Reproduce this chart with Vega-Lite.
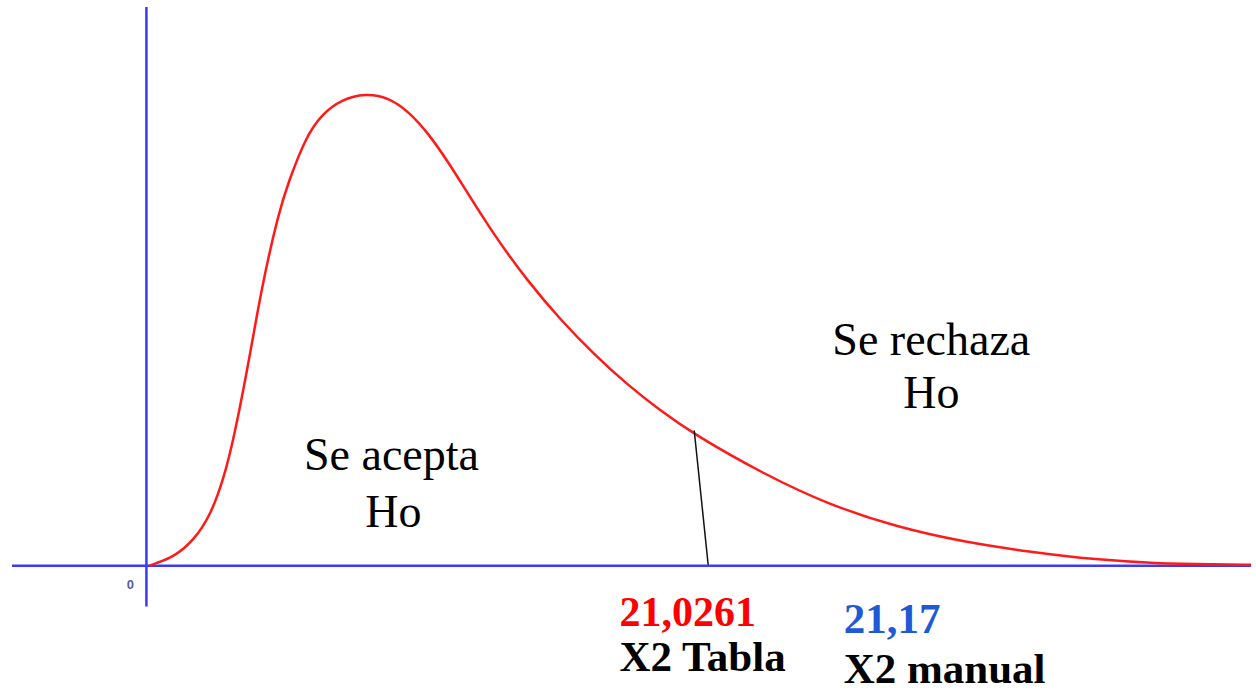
{
  "$schema": "https://vega.github.io/schema/vega-lite/v6.json",
  "width": 1256,
  "height": 692,
  "autosize": {"type": "fit", "contains": "padding"},
  "padding": 0,
  "background": "white",
  "config": {"view": {"stroke": null}},
  "datasets": {
    "curve": [
      {"x": 0.12, "y": 0.0},
      {"x": 0.32, "y": 0.0004},
      {"x": 1.12, "y": 0.0018},
      {"x": 1.92, "y": 0.0052},
      {"x": 2.6, "y": 0.0104},
      {"x": 3.12, "y": 0.0178},
      {"x": 3.52, "y": 0.0258},
      {"x": 4.12, "y": 0.0412},
      {"x": 4.64, "y": 0.0564},
      {"x": 5.32, "y": 0.0712},
      {"x": 5.72, "y": 0.0774},
      {"x": 6.4, "y": 0.0862},
      {"x": 7.04, "y": 0.0908},
      {"x": 7.84, "y": 0.0938},
      {"x": 8.8, "y": 0.095},
      {"x": 9.72, "y": 0.0942},
      {"x": 10.52, "y": 0.0914},
      {"x": 11.32, "y": 0.087},
      {"x": 12.12, "y": 0.0812},
      {"x": 12.72, "y": 0.0764},
      {"x": 14.0, "y": 0.0662},
      {"x": 15.32, "y": 0.0572},
      {"x": 16.64, "y": 0.0494},
      {"x": 18.0, "y": 0.0424},
      {"x": 19.32, "y": 0.0364},
      {"x": 20.64, "y": 0.0312},
      {"x": 22.0, "y": 0.0264},
      {"x": 24.8, "y": 0.0184},
      {"x": 27.44, "y": 0.0122},
      {"x": 30.12, "y": 0.0078},
      {"x": 32.8, "y": 0.0048},
      {"x": 35.44, "y": 0.0028},
      {"x": 38.12, "y": 0.0012},
      {"x": 40.8, "y": 0.0004},
      {"x": 42.92, "y": 0.0003},
      {"x": 44.36, "y": 0.0002}
    ],
    "axes": [
      {"axis": "x", "x": -5.4, "x2": 44.36, "y": 0, "y2": 0},
      {"axis": "y", "x": 0, "x2": 0, "y": 0.1124, "y2": -0.0082}
    ],
    "critical": [
      {"x": 22.0, "y": 0.0272, "x2": 22.56, "y2": 0.0002}
    ],
    "labels": [
      {"group": "region", "text": "Se acepta", "x": 9.84, "y": 0.0192},
      {"group": "region", "text": "Ho", "x": 9.92, "y": 0.0078},
      {"group": "region", "text": "Se rechaza", "x": 31.52, "y": 0.0424},
      {"group": "region", "text": "Ho", "x": 31.52, "y": 0.0318},
      {"group": "tabla", "text": "21,0261", "x": 19.0, "y": -0.0122},
      {"group": "manual", "text": "21,17", "x": 28.0, "y": -0.0136},
      {"group": "name", "text": "X2 Tabla", "x": 19.0, "y": -0.0212},
      {"group": "name", "text": "X2 manual", "x": 28.0, "y": -0.0236},
      {"group": "origin", "text": "0", "x": -0.64, "y": -0.0046}
    ]
  },
  "encoding": {
    "x": {"type": "quantitative", "scale": {"domain": [-5.88, 44.36], "nice": false, "zero": false}, "axis": null},
    "y": {"type": "quantitative", "scale": {"domain": [-0.0246, 0.1138], "nice": false, "zero": false}, "axis": null}
  },
  "layer": [
    {
      "data": {"name": "axes"},
      "mark": {"type": "rule", "color": "#3a3af7", "strokeWidth": 2.5},
      "encoding": {
        "x": {"field": "x", "type": "quantitative"},
        "x2": {"field": "x2"},
        "y": {"field": "y", "type": "quantitative"},
        "y2": {"field": "y2"}
      }
    },
    {
      "data": {"name": "curve"},
      "mark": {"type": "line", "color": "#ff1a1a", "strokeWidth": 2.5, "interpolate": "basis"},
      "encoding": {
        "x": {"field": "x", "type": "quantitative"},
        "y": {"field": "y", "type": "quantitative"}
      }
    },
    {
      "data": {"name": "critical"},
      "mark": {"type": "rule", "color": "#111111", "strokeWidth": 1.5},
      "encoding": {
        "x": {"field": "x", "type": "quantitative"},
        "x2": {"field": "x2"},
        "y": {"field": "y", "type": "quantitative"},
        "y2": {"field": "y2"}
      }
    },
    {
      "data": {"name": "labels"},
      "transform": [{"filter": "datum.group === 'region'"}],
      "mark": {"type": "text", "font": "Liberation Serif", "fontSize": 46, "align": "center", "baseline": "alphabetic", "color": "#000000"},
      "encoding": {
        "x": {"field": "x", "type": "quantitative"},
        "y": {"field": "y", "type": "quantitative"},
        "text": {"field": "text"}
      }
    },
    {
      "data": {"name": "labels"},
      "transform": [{"filter": "datum.group === 'tabla'"}],
      "mark": {"type": "text", "font": "Liberation Serif", "fontSize": 42, "fontWeight": "bold", "align": "left", "baseline": "alphabetic", "color": "#ff0000"},
      "encoding": {
        "x": {"field": "x", "type": "quantitative"},
        "y": {"field": "y", "type": "quantitative"},
        "text": {"field": "text"}
      }
    },
    {
      "data": {"name": "labels"},
      "transform": [{"filter": "datum.group === 'manual'"}],
      "mark": {"type": "text", "font": "Liberation Serif", "fontSize": 43, "fontWeight": "bold", "align": "left", "baseline": "alphabetic", "color": "#1f5ad6"},
      "encoding": {
        "x": {"field": "x", "type": "quantitative"},
        "y": {"field": "y", "type": "quantitative"},
        "text": {"field": "text"}
      }
    },
    {
      "data": {"name": "labels"},
      "transform": [{"filter": "datum.group === 'name'"}],
      "mark": {"type": "text", "font": "Liberation Serif", "fontSize": 43, "fontWeight": "bold", "align": "left", "baseline": "alphabetic", "color": "#000000"},
      "encoding": {
        "x": {"field": "x", "type": "quantitative"},
        "y": {"field": "y", "type": "quantitative"},
        "text": {"field": "text"}
      }
    },
    {
      "data": {"name": "labels"},
      "transform": [{"filter": "datum.group === 'origin'"}],
      "mark": {"type": "text", "font": "Liberation Sans", "fontSize": 13, "fontWeight": "bold", "align": "center", "baseline": "alphabetic", "color": "#5a5aa8"},
      "encoding": {
        "x": {"field": "x", "type": "quantitative"},
        "y": {"field": "y", "type": "quantitative"},
        "text": {"field": "text"}
      }
    }
  ]
}
